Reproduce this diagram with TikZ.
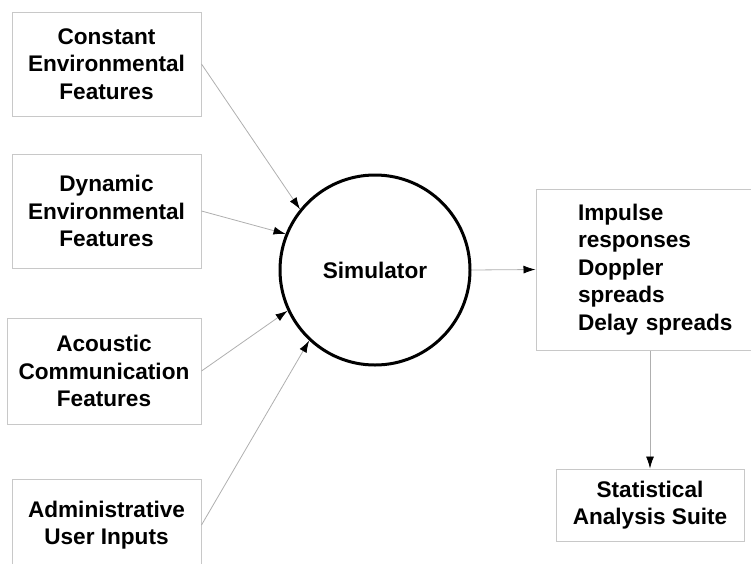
\documentclass[tikz,border=0pt]{standalone}
\usepackage{fontspec}
\setmainfont{Liberation Sans}
\usetikzlibrary{arrows.meta}
\definecolor{boxline}{RGB}{200,200,200}
\definecolor{flowline}{RGB}{175,175,175}
\tikzset{
  feature/.style={
    draw=boxline, line width=1pt, minimum width=189pt,
    inner sep=0pt, align=center, font=\fontsize{22.6}{27.5}\selectfont\bfseries
  },
  process/.style={
    circle, draw=black, line width=3pt, minimum size=190pt,
    inner sep=0pt, font=\fontsize{22.6}{27.5}\selectfont\bfseries
  },
  flow/.style={draw=flowline, line width=0.8pt, -{Latex[black, length=12pt, width=8pt]}},
}
\begin{document}
\begin{tikzpicture}[x=1pt, y=-1pt]
  \useasboundingbox (0,0) rectangle (751,563);
  \clip (0,0) rectangle (751,563);

  % inputs
  \node[feature, minimum height=104pt] (const) at (106.5,64) {Constant\\Environmental\\Features};
  \node[feature, minimum height=114pt] (dyn) at (106.5,211) {Dynamic\\Environmental\\Features};
  \node[feature, minimum width=194pt, minimum height=106pt] (acou) at (104,371) {Acoustic\\Communication\\Features};
  \node[feature, minimum height=92pt] (admin) at (106.5,525) {Administrative\\User Inputs};

  % simulator and outputs
  \node[process] (sim) at (375,270) {Simulator};
  \node[feature, minimum width=240pt, minimum height=161pt, text width=156pt, align=left] (resp) at (656,269.5)
    {Impulse\\responses\\Doppler\\spreads\\Delay spreads};
  \node[feature, minimum width=188pt, minimum height=72pt] (stats) at (650,505) {Statistical\\Analysis Suite};

  % arrows into the simulator
  \draw[flow] (const.east) -- (sim.141);
  \draw[flow] (dyn.east) -- (sim.158);
  \draw[flow] (acou.east) -- (sim.205);
  \draw[flow] (admin.east) -- (sim.227);

  % arrows out
  \draw[flow] (sim.east) -- (resp.west);
  \draw[flow] (stats.north |- resp.south) -- (stats.north);
\end{tikzpicture}
\end{document}
